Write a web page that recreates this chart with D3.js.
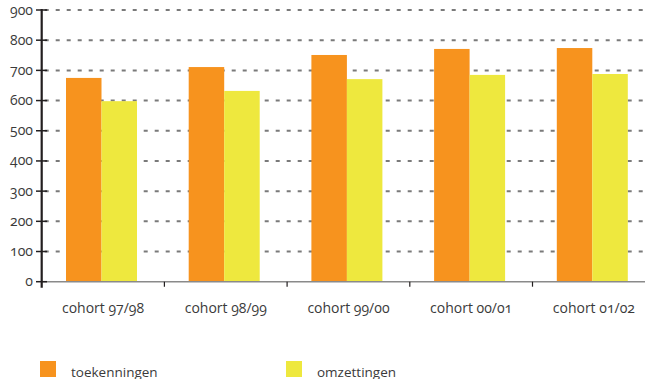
<!DOCTYPE html>
<html><head><meta charset="utf-8">
<script src="https://cdn.jsdelivr.net/npm/d3@7"></script>
<style>
html,body{margin:0;padding:0;background:#fff;}
svg text{font-family:"Open Sans","Noto Sans",sans-serif;font-variant-numeric:oldstyle-nums;font-feature-settings:"onum" 1;fill:#3a3a3a;}
</style></head>
<body>
<svg id="c" width="645" height="379"></svg>
<script>
const categories = ["cohort 97/98","cohort 98/99","cohort 99/00","cohort 00/01","cohort 01/02"];
const toekenningen = [675, 711, 751, 771, 774];
const omzettingen = [598, 632, 671, 685, 688];
const seriesNames = ["toekenningen","omzettingen"];
const colors = ["#f7931e","#eee83e"];
const yTicks = [0,100,200,300,400,500,600,700,800,900];

const svg = d3.select("#c");
const x0 = 41.7, yBase = 281.7, yTop = 10;
const x = d3.scaleBand().domain(categories).range([x0, x0 + 5*122.7]).paddingInner(0).paddingOuter(0);
const xs = d3.scaleBand().domain(seriesNames).range([0, 71]).padding(0);
const y = d3.scaleLinear().domain([0,900]).range([yBase, yTop]);

// gridlines
svg.append("g").selectAll("line").data(yTicks.filter(d=>d>0)).join("line")
  .attr("x1", x0+3).attr("x2", 645).attr("y1", d=>y(d)).attr("y2", d=>y(d))
  .attr("stroke","#7a7a7a").attr("stroke-width",2).attr("stroke-dasharray","4,7");

// bars
const data = categories.map((c,i)=>({c, vals:[toekenningen[i], omzettingen[i]]}));
const g = svg.append("g").selectAll("g").data(data).join("g")
  .attr("transform", d=>`translate(${x(d.c)+24.3},0)`);
g.selectAll("rect").data(d=>d.vals.map((v,j)=>({v, s:seriesNames[j], j}))).join("rect")
  .attr("x", d=>xs(d.s)).attr("width", xs.bandwidth())
  .attr("y", d=>y(d.v)).attr("height", d=>yBase - y(d.v))
  .attr("fill", d=>colors[d.j]);

// x axis
svg.append("line").attr("x1", x0).attr("x2", 645).attr("y1", yBase).attr("y2", yBase)
  .attr("stroke","#8a8a8a").attr("stroke-width",1.5);
svg.append("g").selectAll("line").data(categories.slice(1)).join("line")
  .attr("x1", d=>x(d)).attr("x2", d=>x(d)).attr("y1", yBase).attr("y2", yBase+5)
  .attr("stroke","#231f20").attr("stroke-width",1.2);
svg.append("g").selectAll("text").data(categories).join("text")
  .attr("x", d=>x(d)+x.bandwidth()/2).attr("y", 313)
  .attr("text-anchor","middle").attr("font-size",14).text(d=>d);

// y axis
svg.append("line").attr("x1", x0).attr("x2", x0).attr("y1", 9).attr("y2", yBase+6)
  .attr("stroke","#231f20").attr("stroke-width",2.2);
svg.append("g").selectAll("line").data(yTicks).join("line")
  .attr("x1", 36).attr("x2", 47).attr("y1", d=>y(d)).attr("y2", d=>y(d))
  .attr("stroke","#231f20").attr("stroke-width",1.5);
svg.append("g").selectAll("text").data(yTicks).join("text")
  .attr("x", 33).attr("y", d=>y(d)+4.5).attr("text-anchor","end")
  .attr("font-size",14).text(d=>d);

// legend
const lx = [40, 286];
const lg = svg.append("g").selectAll("g").data(seriesNames).join("g")
  .attr("transform",(d,i)=>`translate(${lx[i]},361)`);
lg.append("rect").attr("width",16).attr("height",16).attr("fill",(d,i)=>colors[i]);
lg.append("text").attr("x",31).attr("y",15.5).attr("font-size",13.5).text(d=>d);
</script>
</body></html>
